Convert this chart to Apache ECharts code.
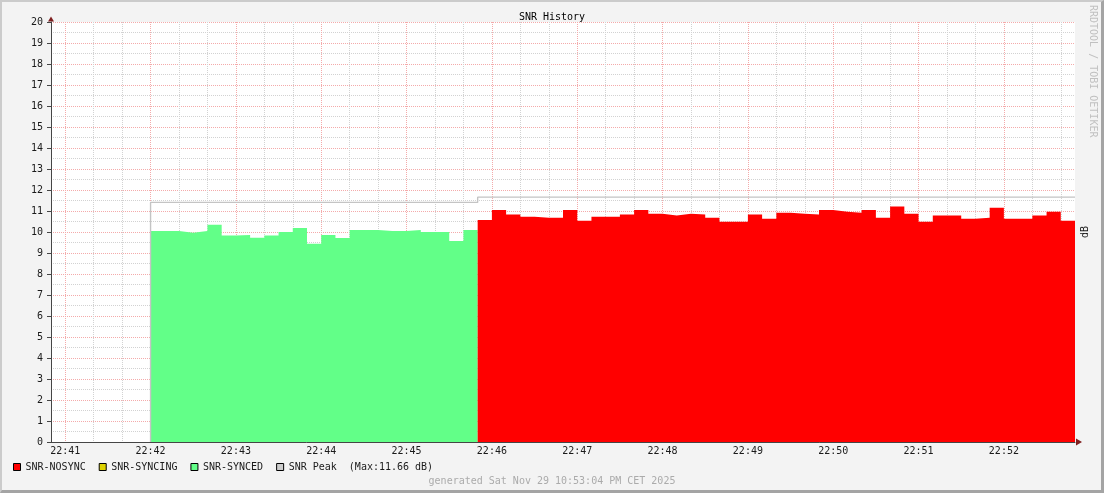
<!DOCTYPE html>
<html>
<head>
<meta charset="utf-8">
<script src="https://cdn.jsdelivr.net/npm/echarts@6/dist/echarts.min.js"></script>
<style>
html,body{margin:0;padding:0;background:#F3F3F3;}
#wrap{position:relative;width:1104px;height:493px;}
#c{position:absolute;left:0;top:0;width:1104px;height:493px;}
#frame{position:absolute;left:0;top:0;width:1104px;height:493px;box-sizing:border-box;
border-top:2px solid #CBCBCB;border-left:2px solid #CBCBCB;border-right:3px solid #A4A4A4;border-bottom:3px solid #A4A4A4;pointer-events:none;}
</style>
</head>
<body>
<div id="wrap"><div id="c"></div><div id="frame"></div></div>
<script>
// ---- data (x in seconds after 22:41:00, one sample per 10 s) ----
const stepSeconds = 10;
const axisStart = -10;   // 22:40:50
const axisEnd = 710;     // 22:52:50
const xTickLabels = ['22:41','22:42','22:43','22:44','22:45','22:46','22:47','22:48','22:49','22:50','22:51','22:52'];

const syncedStart = 60;  // 22:42:00
const syncedValues = [10.05, 10.05, 9.97, 10.05, 10.35, 9.83, 9.86, 9.73, 9.83, 10.0, 10.19, 9.44,
  9.86, 9.71, 10.1, 10.1, 10.05, 10.05, 10.1, 10.0, 10.0, 9.57, 10.1];

const nosyncStart = 290; // 22:45:50
const nosyncValues = [10.57, 11.05, 10.83, 10.73, 10.68, 10.68, 11.05, 10.54, 10.73, 10.73, 10.83, 11.05, 10.87, 10.78,
  10.87, 10.83, 10.68, 10.49, 10.49, 10.83, 10.63, 10.92, 10.87, 10.83, 11.05, 10.97, 10.92, 11.05,
  10.68, 11.21, 10.87, 10.49, 10.78, 10.78, 10.63, 10.68, 11.16, 10.63, 10.63, 10.78, 10.97, 10.54];

const syncingValues = [];

const peakStart = 50;    // 22:41:50
const peakValues = [0,
  11.41, 11.41, 11.41, 11.41, 11.41, 11.41, 11.41, 11.41, 11.41, 11.41, 11.41, 11.41,
  11.41, 11.41, 11.41, 11.41, 11.41, 11.41, 11.41, 11.41, 11.41, 11.41, 11.41,
  11.66, 11.66, 11.66, 11.66, 11.66, 11.66, 11.66, 11.66, 11.66, 11.66, 11.66, 11.66, 11.66, 11.66,
  11.66, 11.66, 11.66, 11.66, 11.66, 11.66, 11.66, 11.66, 11.66, 11.66, 11.66, 11.66, 11.66, 11.66,
  11.66, 11.66, 11.66, 11.66, 11.66, 11.66, 11.66, 11.66, 11.66, 11.66, 11.66, 11.66, 11.66, 11.66];
const peakMaxText = '(Max:11.66 dB)';

// ---- helpers ----
function stepData(start, values) {
  const d = values.map((v, i) => [start + i * stepSeconds, v]);
  if (values.length) d.push([start + values.length * stepSeconds, values[values.length - 1]]);
  return d;
}
function endStepData(start, values) {
  return values.map((v, i) => [start + (i + 1) * stepSeconds, v]);
}

const FONT = '"DejaVu Sans Mono", "Liberation Mono", monospace';
const RED = '#FF0000', GREEN = '#62FF88', YELLOW = '#DDD200', PEAK = '#C4C4C4';
const MGRID = '#F4AAAA', GRID = '#D2D2D2', NONE = 'rgba(0,0,0,0)';
const AXIS = '#454545', ARROW = '#7F1F1F';

const chart = echarts.init(document.getElementById('c'), null, {renderer: 'canvas'});
chart.setOption({
  animation: false,
  backgroundColor: 'transparent',
  title: {
    text: 'SNR History', left: 'center', top: 9, padding: [3, 5],
    textStyle: {fontFamily: FONT, fontSize: 10, fontWeight: 'normal', color: '#000'}
  },
  grid: {left: 51, right: 29, top: 22, bottom: 51, show: true, backgroundColor: '#FFFFFF', borderWidth: 0},
  legend: {
    left: 13, top: 462, padding: 0, itemWidth: 7, itemHeight: 7, itemGap: 13, icon: 'rect', selectedMode: false,
    textStyle: {fontFamily: FONT, fontSize: 10, color: '#1a1a1a'},
    itemStyle: {borderColor: '#000', borderWidth: 1},
    data: ['SNR-NOSYNC', 'SNR-SYNCING', 'SNR-SYNCED', 'SNR Peak'],
    formatter: name => name === 'SNR Peak' ? name + '  ' + peakMaxText : name
  },
  xAxis: [{
    type: 'value', min: axisStart, max: axisEnd, interval: stepSeconds, position: 'bottom',
    axisLine: {show: true, onZero: false, lineStyle: {color: AXIS, width: 1}},
    axisTick: {show: false},
    axisLabel: {
      fontFamily: FONT, fontSize: 10, color: '#1a1a1a', margin: 4,
      formatter: v => (v % 60 === 0 && v >= 0) ? (xTickLabels[v / 60] || '') : ''
    },
    splitLine: {show: true, lineStyle: {type: 'dotted', width: 1, color: [NONE, MGRID, NONE, GRID, NONE, GRID]}}
  }, {
    type: 'value', min: axisStart, max: axisEnd, interval: stepSeconds, position: 'bottom',
    axisLine: {show: true, onZero: false, symbol: ['none', 'triangle'], symbolSize: [7, 6], symbolOffset: [0, 4],
      lineStyle: {color: ARROW, width: 0}},
    axisTick: {show: false}, axisLabel: {show: false}, splitLine: {show: false}
  }],
  yAxis: [{
    type: 'value', min: 0, max: 20, interval: 1, position: 'left',
    axisLine: {show: true, onZero: false, lineStyle: {color: AXIS, width: 1}},
    axisTick: {show: true, length: 4, lineStyle: {color: AXIS}},
    axisLabel: {fontFamily: FONT, fontSize: 10, color: '#1a1a1a', margin: 8},
    splitLine: {show: true, lineStyle: {type: 'dotted', width: 1, color: MGRID}},
    minorTick: {show: false, splitNumber: 2},
    minorSplitLine: {show: true, lineStyle: {type: 'dotted', width: 1, color: GRID}}
  }, {
    type: 'value', min: 0, max: 20, interval: 1, position: 'left',
    axisLine: {show: true, onZero: false, symbol: ['none', 'triangle'], symbolSize: [6, 5], symbolOffset: [0, 3],
      lineStyle: {color: ARROW, width: 0}},
    axisTick: {show: false}, axisLabel: {show: false}, splitLine: {show: false}
  }],
  series: [{
    name: 'SNR-SYNCED', type: 'line', step: 'end', xAxisIndex: 0, yAxisIndex: 0,
    data: stepData(syncedStart, syncedValues), symbol: 'none', silent: true,
    itemStyle: {color: GREEN}, lineStyle: {width: 0, color: GREEN}, areaStyle: {color: GREEN, opacity: 1}, z: 2
  }, {
    name: 'SNR-NOSYNC', type: 'line', step: 'end', xAxisIndex: 0, yAxisIndex: 0,
    data: stepData(nosyncStart, nosyncValues), symbol: 'none', silent: true,
    itemStyle: {color: RED}, lineStyle: {width: 0, color: RED}, areaStyle: {color: RED, opacity: 1}, z: 2
  }, {
    name: 'SNR-SYNCING', type: 'line', step: 'end', xAxisIndex: 0, yAxisIndex: 0,
    data: stepData(0, syncingValues), symbol: 'none', silent: true,
    itemStyle: {color: YELLOW}, lineStyle: {width: 0, color: YELLOW}, areaStyle: {color: YELLOW, opacity: 1}, z: 2
  }, {
    name: 'SNR Peak', type: 'line', step: 'start', xAxisIndex: 0, yAxisIndex: 0,
    data: endStepData(peakStart, peakValues), symbol: 'none', silent: true,
    itemStyle: {color: '#CCCCCC'}, lineStyle: {width: 1.4, color: PEAK}, z: 3
  }],
  graphic: [{
    type: 'text', left: 'center', top: 476, silent: true,
    style: {text: 'generated Sat Nov 29 10:53:04 PM CET 2025', font: '10px ' + FONT, fill: '#ABABAB'}
  }, {
    type: 'text', x: 1093, y: 5, rotation: -Math.PI / 2, silent: true,
    style: {text: 'RRDTOOL / TOBI OETIKER', font: '10px ' + FONT, fill: '#C0C0C0', align: 'left', verticalAlign: 'middle'}
  }, {
    type: 'text', x: 1085, y: 232, rotation: Math.PI / 2, silent: true,
    style: {text: 'dB', font: '10px ' + FONT, fill: '#1a1a1a', align: 'center', verticalAlign: 'middle'}
  }]
});
</script>
</body>
</html>
